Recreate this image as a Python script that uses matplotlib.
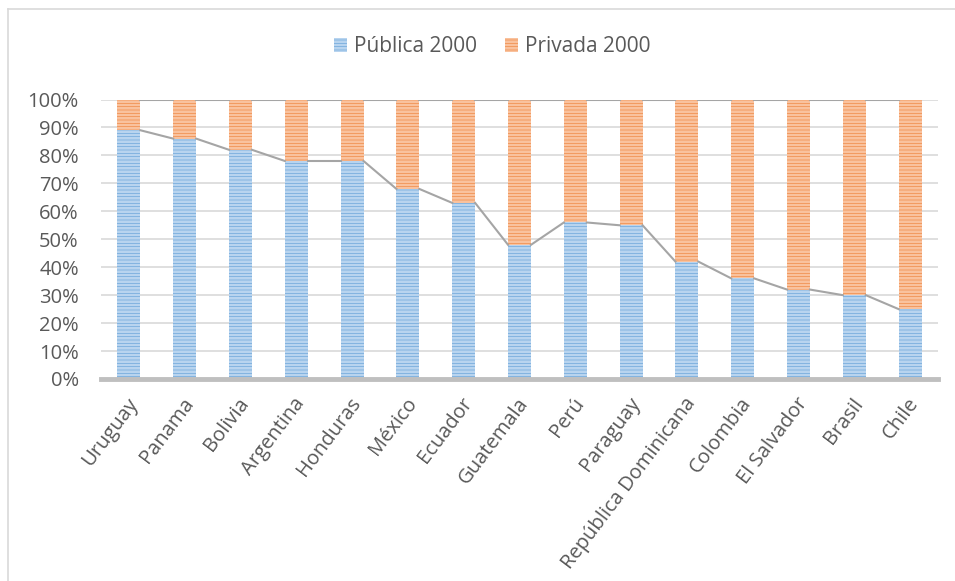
import matplotlib.pyplot as plt
import matplotlib.transforms as mtransforms
from matplotlib.lines import Line2D

# Datos
paises = ['Uruguay', 'Panama', 'Bolivia', 'Argentina', 'Honduras', 'México', 'Ecuador',
          'Guatemala', 'Perú', 'Paraguay', 'República Dominicana', 'Colombia',
          'El Salvador', 'Brasil', 'Chile']
publica_2000 = [89, 86, 82, 78, 78, 68, 63, 48, 56, 55, 42, 36, 32, 30, 25]
privada_2000 = [100 - v for v in publica_2000]

plt.rcParams['font.family'] = ['Open Sans', 'DejaVu Sans']
plt.rcParams['hatch.linewidth'] = 2.0

AZUL = '#5B9BD5'
NARANJA = '#ED7D31'
TEXTO = '#595959'

fig = plt.figure(figsize=(9.55, 5.81), dpi=100)
W, H = 955, 581
ax = fig.add_axes([101 / W, 1 - 379 / H, (938 - 101) / W, (379 - 99.5) / H])

x = list(range(len(paises)))
ancho = 0.41
b1 = ax.bar(x, publica_2000, width=ancho, color=AZUL, edgecolor='#B8D4EF',
            hatch='-----', linewidth=0, zorder=3, label='Pública 2000')
b2 = ax.bar(x, privada_2000, width=ancho, bottom=publica_2000, color=NARANJA,
            edgecolor='#F9C29E', hatch='-----', linewidth=0, zorder=3, label='Privada 2000')

# Líneas de serie (estilo Excel)
for i in range(len(paises) - 1):
    ax.plot([i + ancho / 2, i + 1 - ancho / 2], [publica_2000[i], publica_2000[i + 1]],
            color='#A5A5A5', lw=1.5, zorder=4)
    ax.plot([i + ancho / 2, i + 1 - ancho / 2], [100, 100],
            color='#A5A5A5', lw=1.5, zorder=4)

ax.set_xlim(-0.5, len(paises) - 0.5)
ax.set_ylim(0, 100)
ax.set_yticks(range(0, 101, 10))
ax.set_yticklabels([f'{v}%' for v in range(0, 101, 10)])
ax.yaxis.grid(True, color='#D9D9D9', lw=1.2, zorder=0)
ax.set_axisbelow(True)

for s in ['top', 'right', 'left']:
    ax.spines[s].set_visible(False)
ax.spines['bottom'].set_color('#BFBFBF')
ax.spines['bottom'].set_linewidth(3.5)
ax.spines['bottom'].set_zorder(5)

ax.tick_params(axis='y', length=0, labelsize=14.5, labelcolor=TEXTO, pad=16)
ax.tick_params(axis='x', length=0, labelsize=14.5, labelcolor=TEXTO, pad=15)
ax.set_xticks(x)
ax.set_xticklabels(paises, rotation=53, ha='right', va='center', rotation_mode='anchor')

# Desplaza un poco las etiquetas a la derecha
desplazamiento = mtransforms.ScaledTranslation(5 / 100, 0, fig.dpi_scale_trans)
for lbl in ax.get_xticklabels():
    lbl.set_transform(lbl.get_transform() + desplazamiento)

leg = fig.legend(handles=[b1, b2], loc='center', bbox_to_anchor=(492 / W, 1 - 47 / H),
                 ncol=2, frameon=False, fontsize=15, labelcolor=TEXTO,
                 handlelength=0.65, handleheight=0.65, handletextpad=0.3, columnspacing=1.35)

# Borde del gráfico
fig.add_artist(Line2D([8 / W, 8 / W], [0, 1 - 9 / H], color='#D9D9D9', lw=1.2))
fig.add_artist(Line2D([8 / W, 1], [1 - 9 / H, 1 - 9 / H], color='#D9D9D9', lw=1.2))

fig.savefig('out.png', dpi=100)
